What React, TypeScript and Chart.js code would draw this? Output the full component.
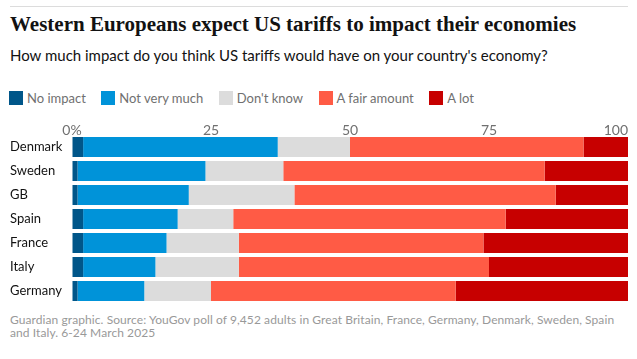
import React, { useEffect, useRef } from "react";
import { Chart, registerables } from "chart.js";

Chart.register(...registerables);

const countries = ["Denmark", "Sweden", "GB", "Spain", "France", "Italy", "Germany"];
const noImpact = [2, 1, 1, 2, 2, 2, 1];
const notVeryMuch = [35, 23, 20, 17, 15, 13, 12];
const dontKnow = [13, 14, 19, 10, 13, 15, 12];
const fairAmount = [42, 47, 47, 49, 44, 45, 44];
const aLot = [8, 15, 13, 22, 26, 25, 31];
const seriesNames = ["No impact", "Not very much", "Don't know", "A fair amount", "A lot"];
const seriesColors = ["#005689", "#0093d9", "#dcdcdc", "#ff5b45", "#c70000"];
const xTicks = [0, 25, 50, 75, 100];

const SANS = "Lato, 'Noto Sans', sans-serif";

export default function App() {
  const ref = useRef<HTMLCanvasElement | null>(null);
  useEffect(() => {
    if (!ref.current) return;
    const values = [noImpact, notVeryMuch, dontKnow, fairAmount, aLot];
    const tickLabelPlugin = {
      id: "tickLabels",
      afterDraw(chart: any) {
        const sc = chart.scales.x;
        const c = chart.ctx;
        c.save();
        c.font = `14px ${SANS}`;
        c.fillStyle = "#707070";
        c.textBaseline = "middle";
        xTicks.forEach((v, i) => {
          const px = sc.getPixelForValue(v);
          c.textAlign = i === xTicks.length - 1 ? "right" : "center";
          c.fillText(i === 0 ? v + "%" : String(v), px, chart.chartArea.top - 5);
        });
        c.restore();
      },
    };
    const chart = new Chart(ref.current, {
      type: "bar",
      data: {
        labels: countries,
        datasets: values.map((d, i) => ({
          label: seriesNames[i],
          data: d,
          backgroundColor: seriesColors[i],
          borderWidth: 0,
          barPercentage: 20 / 24,
          categoryPercentage: 1,
        })),
      },
      options: {
        indexAxis: "y",
        animation: false,
        responsive: false,
        maintainAspectRatio: false,
        layout: { padding: { left: 10, right: 9, top: 0, bottom: 0 }, autoPadding: false },
        plugins: { legend: { display: false }, tooltip: { enabled: false } },
        scales: {
          x: {
            stacked: true,
            position: "top",
            min: 0,
            max: 100,
            z: 1,
            afterBuildTicks(scale: any) {
              scale.ticks = xTicks.map((v) => ({ value: v }));
            },
            afterFit(scale: any) {
              scale.height = 23;
              scale.paddingLeft = 0;
              scale.paddingRight = 0;
            },
            ticks: { display: false },
            grid: {
              drawTicks: false,
              color: (ctx: any) =>
                ctx.tick && (ctx.tick.value === 0 || ctx.tick.value === 100)
                  ? "rgba(0,0,0,0)"
                  : "rgba(255,255,255,0.35)",
              lineWidth: 1,
            },
            border: { display: false },
          },
          y: {
            stacked: true,
            afterFit(scale: any) {
              scale.width = 62;
              scale.paddingTop = 0;
              scale.paddingBottom = 0;
            },
            ticks: {
              crossAlign: "far",
              padding: 0,
              color: "#121212",
              font: { family: SANS, size: 13 },
            },
            grid: { display: false, drawTicks: false },
            border: { display: false },
          },
        },
      },
      plugins: [tickLabelPlugin],
    } as any);
    return () => chart.destroy();
  }, []);

  const legendItems = seriesNames.map((n, i) => (
    <div key={n} style={{ display: "flex", alignItems: "center", marginRight: 15.5 }}>
      <div style={{ width: 14, height: 14, background: seriesColors[i], marginRight: 4 }} />
      <span>{n}</span>
    </div>
  ));

  return (
    <div style={{ position: "absolute", left: 0, top: 0, width: 637, height: 359, background: "#fff", overflow: "hidden" }}>
      <div style={{ position: "absolute", left: 10, top: 6, width: 618, height: 1, background: "#dcdcdc" }} />
      <div
        style={{
          position: "absolute",
          left: 10,
          top: 10,
          fontFamily: "'Liberation Serif', serif",
          fontWeight: 700,
          fontSize: 21,
          lineHeight: "28px",
          color: "#121212",
          whiteSpace: "nowrap",
        }}
      >
        Western Europeans expect US tariffs to impact their economies
      </div>
      <div
        style={{
          position: "absolute",
          left: 10,
          top: 45,
          fontFamily: SANS,
          fontSize: 15,
          lineHeight: "20px",
          color: "#121212",
          whiteSpace: "nowrap",
        }}
      >
        How much impact do you think US tariffs would have on your country's economy?
      </div>
      <div
        style={{
          position: "absolute",
          left: 9,
          top: 89,
          display: "flex",
          fontFamily: SANS,
          fontSize: 13,
          lineHeight: "18px",
          color: "#707070",
          whiteSpace: "nowrap",
        }}
      >
        {legendItems}
      </div>
      <canvas ref={ref} width={637} height={191} style={{ position: "absolute", left: 0, top: 112, width: 637, height: 191 }} />
      <div
        style={{
          position: "absolute",
          left: 10,
          top: 313,
          fontFamily: SANS,
          fontSize: 12,
          letterSpacing: 0.08,
          lineHeight: "13px",
          color: "#999999",
          whiteSpace: "nowrap",
        }}
      >
        Guardian graphic. Source: YouGov poll of 9,452 adults in Great Britain, France, Germany, Denmark, Sweden, Spain
        <br />
        and Italy. 6-24 March 2025
      </div>
    </div>
  );
}
